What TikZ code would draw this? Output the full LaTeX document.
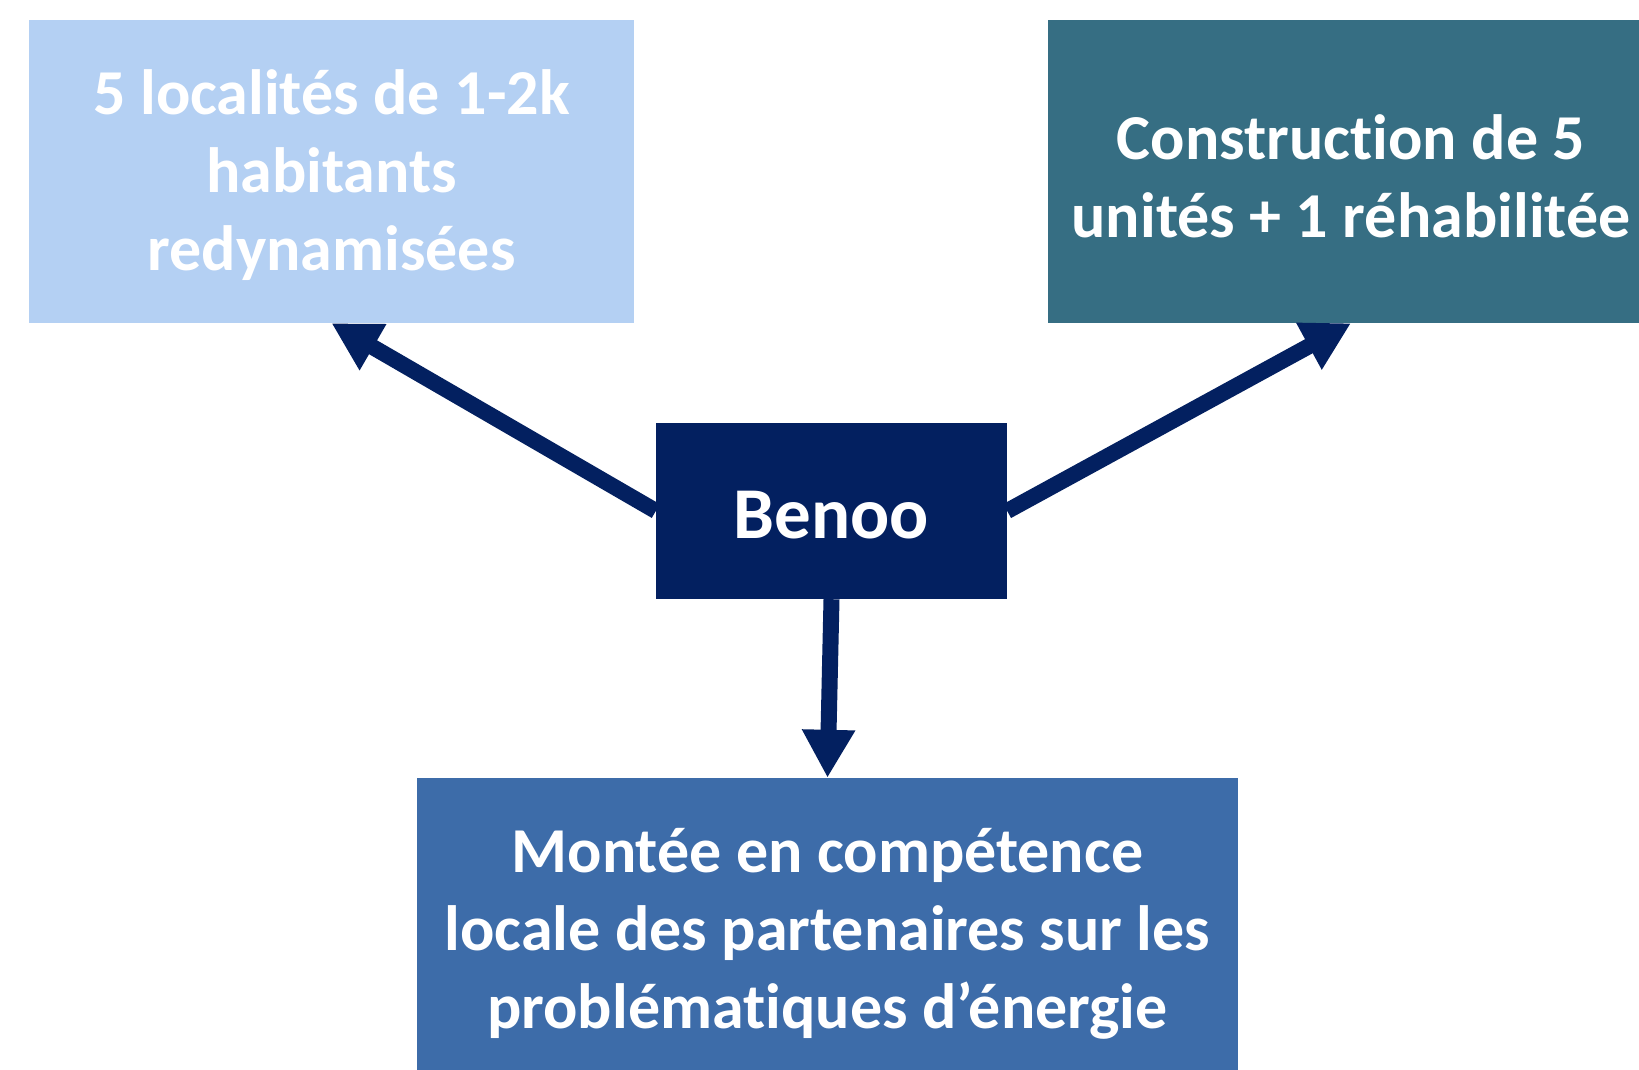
\documentclass[tikz,border=0pt]{standalone}
\usepackage{fontspec}
\setmainfont{Carlito}[RawFeature={-liga}]
\usetikzlibrary{arrows.meta}
\definecolor{lightbox}{RGB}{180,208,243}
\definecolor{tealbox}{RGB}{54,110,131}
\definecolor{navybox}{RGB}{3,32,96}
\definecolor{midbox}{RGB}{61,108,169}
\tikzset{
  box/.style={rectangle, inner sep=0pt},
  boxtext/.style={text=white, align=center, yshift=-4pt,
    font=\bfseries\fontsize{64}{78}\selectfont},
  link/.style={draw=navybox, line width=16pt, -{Triangle[length=48pt,width=50pt]}}
}
\begin{document}
\begin{tikzpicture}[x=1pt,y=-1pt]
\useasboundingbox (0,0) rectangle (1639,1069);
\clip (0,0) rectangle (1639,1069);
\node[box, fill=lightbox, minimum width=605pt, minimum height=303pt,
  label={[boxtext]center:5 localités de 1-2k\\habitants\\redynamisées}] (lb) at (331.5,171.5) {};
\node[box, fill=tealbox, minimum width=606pt, minimum height=303pt,
  label={[boxtext, yshift=-1pt]center:Construction de 5\\unités + 1 réhabilitée}] (rb) at (1351,171.5) {};
\node[box, fill=navybox, minimum width=351pt, minimum height=176pt,
  label={[boxtext, font=\bfseries\fontsize{73}{88}\selectfont]center:Benoo}] (benoo) at (831.5,511) {};
\node[box, fill=midbox, minimum width=821pt, minimum height=304pt,
  label={[boxtext]center:Montée en compétence\\locale des partenaires sur les\\problématiques d’énergie}] (bb) at (827.5,930) {};
\draw[link] (benoo.west) -- (lb.south);
\draw[link] (benoo.east) -- (rb.south);
\draw[link] (benoo.south) -- (bb.north);
\end{tikzpicture}
\end{document}
